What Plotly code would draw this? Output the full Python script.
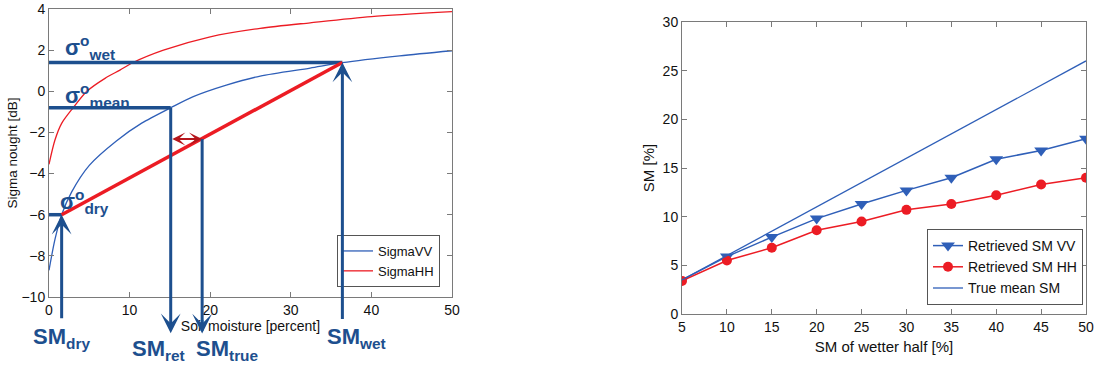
import plotly.graph_objects as go

# ---------------- Left panel data ----------------
vv_sm = [0, 0.74, 1.57, 2.8, 5.0, 8.4, 11.5, 15.1, 17.9, 22.0, 26.2, 32.4, 36.4, 43.5, 50]
vv_sigma = [-8.7, -7.2, -6.0, -4.9, -3.6, -2.4, -1.55, -0.8, -0.26, 0.3, 0.74, 1.13, 1.39, 1.72, 1.97]
hh_sm = [0, 0.74, 1.57, 3.0, 4.7, 6.95, 8.8, 10.5, 14.2, 20.0, 26.2, 32.4, 40.0, 50]
hh_sigma = [-3.55, -2.37, -1.56, -0.8, 0.0, 0.63, 1.03, 1.41, 2.0, 2.65, 3.06, 3.33, 3.63, 3.87]

sm_dry, sm_ret, sm_true, sm_wet = 1.57, 15.1, 19.0, 36.4
sig_dry, sig_mean, sig_true, sig_wet = -6.0, -0.8, -2.32, 1.4

# ---------------- Right panel data ----------------
wet_half = [5, 10, 15, 20, 25, 30, 35, 40, 45, 50]
ret_vv = [3.5, 5.9, 7.9, 9.8, 11.3, 12.7, 14.0, 15.9, 16.8, 18.0]
ret_hh = [3.4, 5.5, 6.8, 8.6, 9.5, 10.7, 11.3, 12.2, 13.3, 14.0]
true_mean = [3.5, 6.0, 8.5, 11.0, 13.5, 16.0, 18.5, 21.0, 23.5, 26.0]

W, H = 1097, 367
FONT = "Liberation Sans, Arial, sans-serif"
DBLUE = "#1d4f8e"
LBLUE = "#2f5fb8"
RED = "#ec1c24"
AXC = "#7a7a7a"

fig = go.Figure()

fig.add_trace(go.Scatter(x=vv_sm, y=vv_sigma, mode="lines", name="SigmaVV",
                         line=dict(color=LBLUE, width=1.3, shape="spline", smoothing=0.8),
                         xaxis="x", yaxis="y", legend="legend"))
fig.add_trace(go.Scatter(x=hh_sm, y=hh_sigma, mode="lines", name="SigmaHH",
                         line=dict(color=RED, width=1.3, shape="spline", smoothing=0.8),
                         xaxis="x", yaxis="y", legend="legend"))

fig.add_trace(go.Scatter(x=wet_half, y=ret_vv, mode="lines+markers", name="Retrieved SM VV",
                         line=dict(color=LBLUE, width=1.5),
                         marker=dict(symbol="triangle-down", size=12, color=LBLUE),
                         xaxis="x2", yaxis="y2", legend="legend2"))
fig.add_trace(go.Scatter(x=wet_half, y=ret_hh, mode="lines+markers", name="Retrieved SM HH",
                         line=dict(color=RED, width=1.5),
                         marker=dict(symbol="circle", size=10, color=RED),
                         xaxis="x2", yaxis="y2", legend="legend2"))
fig.add_trace(go.Scatter(x=wet_half, y=true_mean, mode="lines", name="True mean SM",
                         line=dict(color=LBLUE, width=1.3),
                         xaxis="x2", yaxis="y2", legend="legend2"))

def px_x(p):
    return p / W

def px_y(p):
    return (H - p) / H

axis_common = dict(showgrid=False, zeroline=False, showline=True, linecolor=AXC, linewidth=1,
                   mirror="ticks", ticks="inside", ticklen=5, tickcolor=AXC, automargin=False,
                   tickfont=dict(family=FONT, size=14, color="#111"))

fig.update_layout(
    width=W, height=H,
    margin=dict(l=0, r=0, t=0, b=0, autoexpand=False),
    paper_bgcolor="white", plot_bgcolor="white",
    font=dict(family=FONT, color="#111"),
    xaxis=dict(domain=[px_x(49), px_x(452)], range=[0, 50], dtick=10, anchor="y",
               title=dict(text="Soil moisture [percent]", font=dict(size=14), standoff=2),
               **axis_common),
    yaxis=dict(domain=[px_y(297), px_y(9)], range=[-10, 4], dtick=2, anchor="x",
               title=dict(text="Sigma nought [dB]", font=dict(size=13.5), standoff=0),
               **axis_common),
    xaxis2=dict(domain=[px_x(682), px_x(1086)], range=[5, 50], dtick=5, anchor="y2",
                title=dict(text="SM of wetter half [%]", font=dict(size=15), standoff=7),
                **axis_common),
    yaxis2=dict(domain=[px_y(314), px_y(22)], range=[0, 30], dtick=5, anchor="x2",
                title=dict(text="SM [%]", font=dict(size=15), standoff=4),
                **axis_common),
    legend=dict(x=px_x(440), y=px_y(287), xanchor="right", yanchor="bottom",
                bgcolor="white", bordercolor="#555", borderwidth=1,
                font=dict(family=FONT, size=13), itemwidth=30, tracegroupgap=0),
    legend2=dict(x=px_x(1083), y=px_y(305), xanchor="right", yanchor="bottom",
                 bgcolor="white", bordercolor="#555", borderwidth=1,
                 font=dict(family=FONT, size=14), itemwidth=30, tracegroupgap=0),
)

shapes = []
# horizontal sigma levels
for yv, xe in [(sig_wet, sm_wet), (sig_mean, sm_ret), (sig_dry, sm_dry)]:
    shapes.append(dict(type="line", xref="x", yref="y", x0=0, x1=xe, y0=yv, y1=yv,
                       line=dict(color=DBLUE, width=3.5)))
# red retrieval line
shapes.append(dict(type="line", xref="x", yref="y", x0=sm_dry, y0=sig_dry, x1=sm_wet, y1=sig_wet,
                   line=dict(color=RED, width=3.5)))
fig.update_layout(shapes=shapes)

ann = []
# up arrows (head at data point, tail below the axis)
for xv, yv, tail in [(sm_dry, sig_dry, 105), (sm_wet, sig_wet, 258)]:
    ann.append(dict(x=xv, y=yv, xref="x", yref="y", ax=0, ay=tail, axref="pixel", ayref="pixel",
                    showarrow=True, arrowhead=3, arrowsize=1.1, arrowwidth=3, arrowcolor=DBLUE,
                    text=""))
# down arrows (start at data point, head below the axis)
for xv, yv, tail in [(sm_ret, sig_mean, 227), (sm_true, sig_true, 196)]:
    ann.append(dict(x=xv, y=yv, xref="x", yref="y", ax=0, ay=tail, axref="pixel", ayref="pixel",
                    showarrow=True, arrowhead=3, startarrowhead=3, arrowside="start",
                    arrowsize=1.1, startarrowsize=1.1, arrowwidth=3, arrowcolor=DBLUE, text=""))
# red double arrow
ann.append(dict(x=sm_true, y=sig_true, xref="x", yref="y", ax=sm_ret, ay=sig_true, axref="x", ayref="y",
                showarrow=True, arrowhead=3, startarrowhead=3, arrowside="end+start",
                arrowsize=1.1, startarrowsize=1.1, arrowwidth=2, arrowcolor="#b5161c", text=""))

lab_font = dict(family=FONT, size=22, color=DBLUE, weight="bold")
for txt, xv, yv in [("σ<sup>o</sup><sub>wet</sub>", 1.7, 2.15),
                    ("σ<sup>o</sup><sub>mean</sub>", 1.7, -0.2),
                    ("σ<sup>o</sup><sub>dry</sub>", 1.1, -5.35)]:
    ann.append(dict(x=xv, y=yv, xref="x", yref="y", text=txt, showarrow=False,
                    xanchor="left", yanchor="middle", font=lab_font))
for txt, xv, ypx in [("SM<sub>dry</sub>", sm_dry, 338), ("SM<sub>ret</sub>", sm_ret - 1.5, 350),
                     ("SM<sub>true</sub>", sm_true + 3.2, 350), ("SM<sub>wet</sub>", sm_wet + 1.8, 338)]:
    ann.append(dict(x=xv, y=px_y(ypx), xref="x", yref="paper", text=txt, showarrow=False,
                    xanchor="center", yanchor="middle", font=lab_font))
fig.update_layout(annotations=ann)

fig.write_html("out.html", config={"displayModeBar": False},
               post_script="document.body.style.margin='0px';")
